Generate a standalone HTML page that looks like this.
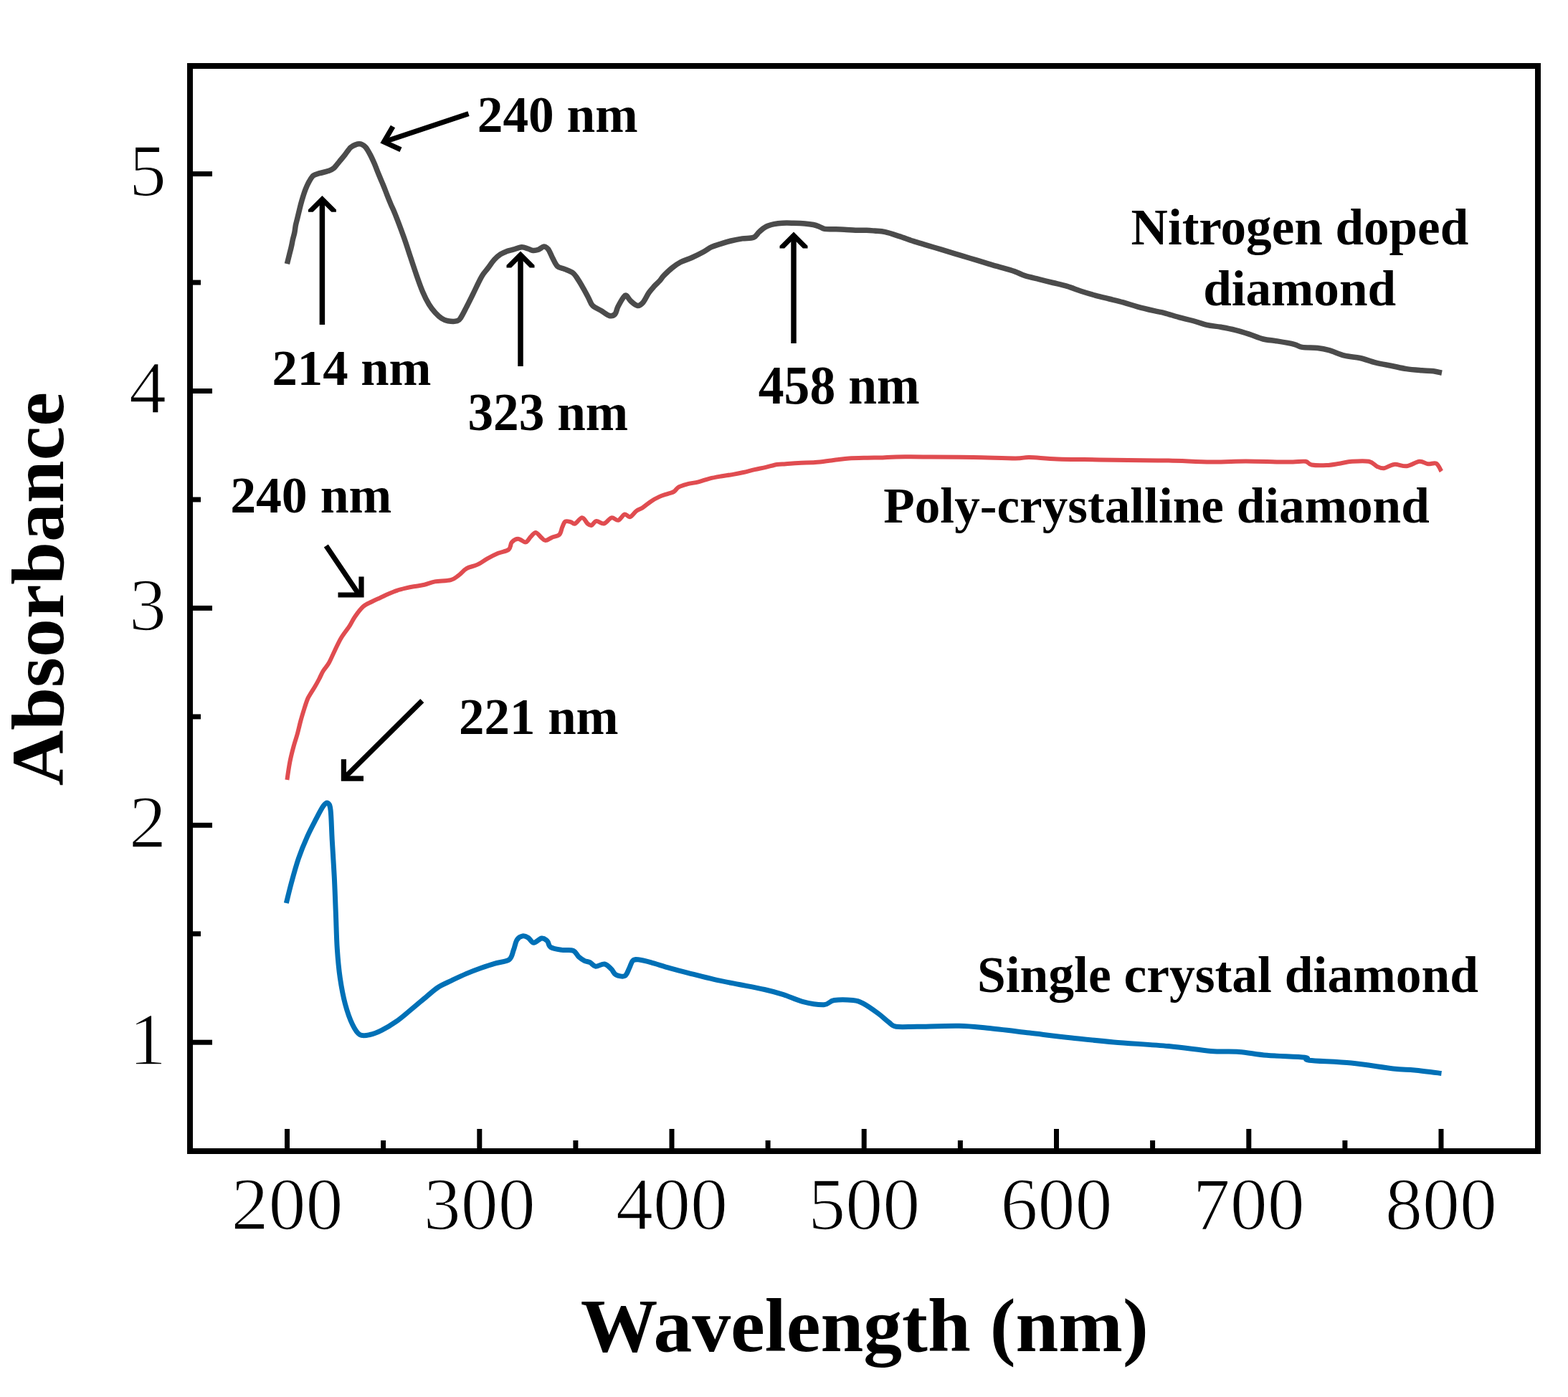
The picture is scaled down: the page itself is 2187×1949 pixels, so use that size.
<!DOCTYPE html>
<html><head><meta charset="utf-8"><title>UV-Vis absorbance</title>
<style>html,body{margin:0;padding:0;background:#fff;width:2187px;height:1949px;overflow:hidden}svg{display:block}text{font-family:"Liberation Serif","Times New Roman",serif;fill:#000}.t{font-size:104px;stroke:#fff;stroke-width:1.6px;paint-order:fill}.b{font-weight:bold}.ann{font-size:70px;font-weight:bold}.lab{font-size:110px;font-weight:bold}</style></head><body>
<svg xmlns="http://www.w3.org/2000/svg" width="2187" height="1949" viewBox="0 0 2187 1949">
<rect width="2187" height="1949" fill="#fff"/>
<path d="M400.4,368.2C401.0,365.9 402.8,358.3 403.8,354.3C404.8,350.3 405.6,347.7 406.3,344.4C407.1,341.1 407.6,337.8 408.3,334.5C409.1,331.2 410.1,327.9 410.8,324.6C411.5,321.3 411.7,318.0 412.3,314.7C412.9,311.4 413.8,308.5 414.7,304.8C415.6,301.1 416.7,296.6 417.7,292.5C418.7,288.4 419.5,284.8 420.9,280.1C422.3,275.4 424.2,269.0 426.0,264.4C427.8,259.8 429.6,256.0 431.5,252.7C433.4,249.4 434.9,246.6 437.3,244.8C439.7,243.0 442.5,242.7 445.9,241.7C449.3,240.7 454.4,239.8 457.7,238.6C461.0,237.4 462.9,236.9 465.5,234.7C468.1,232.5 470.8,228.4 473.4,225.3C476.0,222.2 478.6,219.2 481.2,215.9C483.8,212.6 486.4,208.1 489.0,205.7C491.6,203.3 494.9,202.3 496.9,201.5C498.9,200.7 499.5,200.8 500.8,200.8C502.1,200.8 503.1,200.7 504.7,201.5C506.3,202.3 508.2,203.3 510.2,205.7C512.1,208.1 514.4,212.2 516.4,215.9C518.4,219.6 519.9,223.0 521.9,227.6C523.9,232.2 526.1,238.2 528.2,243.3C530.3,248.4 532.5,253.4 534.5,258.2C536.5,263.0 538.2,267.7 540.0,272.3C541.8,276.9 543.6,281.3 545.4,285.6C547.2,289.9 547.9,290.6 550.9,298.1C553.9,305.6 559.7,321.0 563.2,330.8C566.7,340.6 569.1,348.3 572.0,357.1C574.9,365.9 577.9,375.1 580.8,383.5C583.7,391.9 586.7,400.4 589.6,407.3C592.5,414.2 595.5,420.0 598.4,424.8C601.3,429.6 604.2,433.1 607.1,436.3C610.0,439.5 613.0,442.3 615.9,444.2C618.8,446.1 621.0,447.1 624.7,447.7C628.4,448.3 634.8,448.6 637.9,447.7C641.0,446.8 641.0,445.8 643.2,442.4C645.4,439.0 648.3,432.9 651.1,427.5C653.9,422.1 656.5,416.8 659.9,409.9C663.3,402.9 668.3,391.8 671.8,385.8C675.2,379.8 677.7,378.0 680.6,374.1C683.5,370.2 686.5,365.5 689.4,362.3C692.3,359.1 695.3,356.6 698.2,354.7C701.1,352.8 704.1,351.7 707.0,350.6C709.9,349.5 712.4,349.2 715.8,348.2C719.2,347.2 724.2,344.9 727.6,344.7C731.0,344.5 733.8,346.2 736.4,347.0C739.0,347.8 740.9,349.2 743.4,349.4C745.9,349.6 748.5,349.1 751.1,348.2C753.7,347.3 756.5,344.2 758.7,344.1C761.0,344.0 762.6,345.1 764.6,347.6C766.6,350.2 768.4,355.4 770.5,359.4C772.6,363.4 774.7,368.8 777.5,371.5C780.3,374.2 783.8,373.8 787.4,375.4C791.0,377.0 795.9,378.3 799.2,380.9C802.5,383.5 804.4,387.2 807.0,391.1C809.6,395.0 812.4,400.2 814.8,404.4C817.1,408.6 819.1,412.5 821.1,416.2C823.1,419.9 823.7,423.5 826.6,426.4C829.5,429.3 834.5,431.0 838.4,433.4C842.3,435.8 846.9,439.7 850.1,440.5C853.4,441.3 855.9,440.2 857.9,438.1C859.9,436.0 859.9,431.8 861.9,427.9C863.9,424.0 867.8,417.2 869.7,414.6C871.7,412.0 871.9,411.4 873.6,412.3C875.3,413.2 877.3,417.8 879.9,420.1C882.5,422.5 886.4,426.1 889.3,426.4C892.2,426.7 894.5,424.7 897.1,421.7C899.7,418.7 902.4,412.2 905.0,408.4C907.6,404.6 910.3,401.8 912.8,399.0C915.3,396.2 917.9,394.3 920.0,391.9C922.1,389.5 922.8,387.6 925.7,384.6C928.6,381.6 933.5,376.8 937.4,373.7C941.3,370.6 944.6,368.2 949.2,365.8C953.8,363.4 959.6,361.9 964.8,359.5C970.0,357.1 975.9,354.2 980.5,351.7C985.1,349.2 988.4,346.5 992.3,344.7C996.2,342.9 999.4,342.1 1004.0,340.7C1008.6,339.2 1014.5,337.3 1019.7,336.0C1024.9,334.7 1030.2,333.7 1035.4,332.9C1040.6,332.1 1047.1,332.9 1051.0,331.3C1054.9,329.7 1056.1,325.9 1058.9,323.5C1061.7,321.1 1064.3,318.4 1067.8,316.6C1071.2,314.8 1075.7,313.6 1079.6,312.7C1083.5,311.8 1086.7,311.4 1091.3,311.2C1095.9,310.9 1101.8,311.1 1107.0,311.2C1112.2,311.3 1118.1,311.5 1122.7,311.9C1127.3,312.3 1131.1,312.8 1134.4,313.5C1137.7,314.2 1139.7,314.9 1142.3,315.9C1144.9,316.9 1146.8,318.8 1150.1,319.4C1153.4,320.0 1157.3,319.7 1161.9,319.8C1166.5,319.9 1172.3,319.9 1177.5,320.2C1182.7,320.4 1188.0,321.1 1193.2,321.3C1198.4,321.5 1204.4,321.2 1208.9,321.3C1213.4,321.4 1215.7,321.7 1220.0,322.1C1224.3,322.5 1228.9,322.4 1234.6,323.7C1240.3,324.9 1247.7,327.5 1254.2,329.6C1260.7,331.7 1267.3,334.3 1273.8,336.4C1280.3,338.5 1286.9,340.3 1293.4,342.3C1299.9,344.3 1306.5,346.2 1313.0,348.2C1319.5,350.2 1326.0,352.1 1332.5,354.1C1339.0,356.1 1345.6,358.1 1352.1,360.0C1358.6,361.9 1365.2,363.9 1371.7,365.8C1378.2,367.8 1384.1,369.6 1391.3,371.7C1398.5,373.8 1408.6,376.4 1415.0,378.6C1421.4,380.8 1423.9,382.9 1429.6,384.7C1435.3,386.5 1442.7,388.0 1449.2,389.6C1455.7,391.2 1462.3,392.9 1468.8,394.5C1475.3,396.1 1481.9,397.4 1488.4,399.4C1494.9,401.3 1501.4,404.1 1507.9,406.2C1514.4,408.3 1521.0,410.3 1527.5,412.1C1534.0,413.9 1540.6,415.4 1547.1,417.0C1553.6,418.6 1560.2,420.1 1566.7,421.9C1573.2,423.7 1579.1,425.8 1586.3,427.8C1593.5,429.8 1603.6,432.2 1610.0,433.7C1616.4,435.2 1618.9,435.3 1624.6,436.8C1630.3,438.3 1637.7,440.8 1644.2,442.6C1650.7,444.4 1657.3,445.7 1663.8,447.5C1670.3,449.3 1676.9,451.9 1683.4,453.4C1689.9,454.9 1696.4,455.1 1702.9,456.3C1709.4,457.5 1716.0,458.7 1722.5,460.3C1729.0,461.9 1735.6,464.0 1742.1,466.1C1748.6,468.2 1755.2,471.4 1761.7,473.0C1768.2,474.6 1774.1,474.7 1781.3,475.9C1788.5,477.1 1799.2,478.9 1805.0,480.3C1810.8,481.7 1810.8,483.5 1816.2,484.4C1821.7,485.3 1831.4,484.8 1837.7,485.5C1844.0,486.2 1847.6,486.9 1853.9,488.7C1860.2,490.5 1868.2,494.4 1875.4,496.2C1882.6,498.0 1889.8,497.9 1897.0,499.5C1904.2,501.1 1911.3,504.1 1918.5,505.9C1925.7,507.7 1932.9,508.8 1940.1,510.2C1947.3,511.6 1954.4,513.5 1961.6,514.6C1968.8,515.7 1976.9,516.2 1983.2,516.7C1989.5,517.2 1994.7,517.2 1999.3,517.8C2003.9,518.4 2009.0,519.9 2011.0,520.3" fill="none" stroke="#4b4b4b" stroke-width="7.5" stroke-linejoin="round"/>
<path d="M400.4,1088.0C401.0,1083.8 402.8,1070.9 404.3,1063.1C405.8,1055.3 407.8,1047.7 409.6,1041.1C411.4,1034.5 413.3,1029.4 414.9,1023.5C416.5,1017.6 417.7,1011.8 419.3,1005.9C420.9,1000.0 422.9,993.5 424.5,988.4C426.1,983.2 427.8,978.2 429.1,975.0C430.4,971.8 430.7,971.8 432.4,969.0C434.1,966.2 437.0,961.7 439.2,958.0C441.4,954.3 443.4,950.7 445.3,947.0C447.2,943.3 448.6,939.6 450.8,936.0C453.0,932.4 455.8,930.0 458.5,925.3C461.2,920.6 464.0,913.6 466.9,907.7C469.8,901.9 472.2,896.1 475.7,890.2C479.2,884.4 484.8,877.6 488.0,872.6C491.2,867.6 491.9,864.9 495.0,860.5C498.1,856.1 502.9,849.6 506.8,846.1C510.7,842.6 514.6,841.5 518.5,839.5C522.4,837.5 526.4,835.8 530.3,834.0C534.2,832.2 538.1,830.2 542.0,828.5C545.9,826.8 549.9,825.1 553.8,823.8C557.7,822.5 561.6,821.6 565.5,820.7C569.4,819.8 572.6,819.1 577.0,818.3C581.4,817.5 587.0,816.9 592.0,815.8C597.0,814.6 600.6,812.5 606.7,811.4C612.8,810.3 623.3,810.7 628.8,809.2C634.3,807.7 636.1,805.3 639.8,802.6C643.5,799.9 646.5,795.6 650.8,793.1C655.1,790.6 660.6,790.2 665.5,787.9C670.4,785.6 675.3,781.8 680.2,779.1C685.1,776.4 690.0,773.9 694.9,771.8C699.8,769.7 706.5,769.2 709.6,766.6C712.8,764.0 711.6,758.9 713.8,756.4C716.0,753.9 719.4,751.7 722.6,751.7C725.8,751.7 730.2,756.9 733.2,756.4C736.2,755.9 737.9,751.0 740.3,748.8C742.6,746.5 744.9,742.7 747.3,742.9C749.7,743.1 752.6,748.0 754.9,749.9C757.1,751.8 758.3,754.1 760.8,754.1C763.2,754.1 766.4,751.3 769.6,749.9C772.8,748.5 777.8,748.2 780.2,745.8C782.7,743.4 782.9,738.3 784.3,735.3C785.7,732.3 786.4,728.8 788.4,727.6C790.4,726.4 793.9,727.7 796.1,728.2C798.4,728.7 799.3,731.6 801.9,730.6C804.5,729.6 808.9,722.3 811.9,722.3C814.9,722.3 817.4,728.8 819.6,730.6C821.8,732.4 823.0,733.5 825.0,732.9C827.0,732.3 828.9,727.4 831.8,727.0C834.7,726.6 838.8,731.3 842.3,730.5C845.8,729.7 849.6,723.1 852.9,722.3C856.2,721.5 859.3,726.6 862.3,725.8C865.3,725.0 868.4,718.4 871.1,717.6C873.9,716.8 876.0,721.9 878.8,721.1C881.5,720.3 884.7,715.0 887.6,712.9C890.5,710.8 893.0,710.5 896.4,708.2C899.8,706.0 904.2,702.0 908.1,699.4C912.0,696.8 916.0,694.7 919.9,692.9C923.8,691.1 928.2,690.0 931.6,688.8C935.0,687.6 937.5,687.5 940.0,685.9C942.5,684.3 943.7,681.1 946.8,679.4C949.9,677.6 953.9,676.6 958.5,675.4C963.1,674.2 969.0,673.6 974.2,672.3C979.4,671.0 984.6,668.9 989.8,667.6C995.0,666.3 1000.3,665.4 1005.5,664.5C1010.7,663.6 1016.0,663.0 1021.2,662.1C1026.4,661.2 1031.7,660.2 1036.9,659.0C1042.1,657.8 1047.3,656.3 1052.5,655.1C1057.7,653.9 1063.0,653.1 1068.2,651.9C1073.4,650.7 1079.3,648.8 1083.9,648.0C1088.5,647.2 1091.1,647.6 1096.0,647.2C1100.9,646.9 1106.7,646.2 1113.5,645.9C1120.3,645.5 1129.8,645.6 1137.0,645.1C1144.2,644.6 1151.4,643.4 1156.6,642.7C1161.8,642.1 1163.8,641.7 1168.4,641.2C1173.0,640.7 1177.5,640.0 1184.0,639.6C1190.5,639.2 1199.7,639.0 1207.5,638.8C1215.3,638.6 1223.9,638.6 1231.0,638.4C1238.1,638.2 1238.7,637.5 1250.0,637.4C1261.3,637.2 1280.9,637.4 1298.8,637.5C1316.7,637.6 1337.9,637.8 1357.5,638.1C1377.1,638.4 1403.2,639.5 1416.3,639.5C1429.4,639.5 1426.1,637.9 1435.9,638.1C1445.7,638.3 1458.8,640.0 1475.1,640.5C1491.4,641.0 1517.5,641.1 1533.8,641.4C1550.1,641.6 1557.0,641.8 1573.0,642.0C1589.0,642.2 1610.7,642.1 1630.0,642.5C1649.3,642.9 1670.8,644.3 1688.8,644.5C1706.8,644.7 1722.5,643.5 1737.7,643.5C1752.9,643.5 1769.0,644.2 1780.0,644.4C1791.0,644.5 1796.7,644.5 1803.5,644.4C1810.3,644.3 1816.8,643.1 1821.1,643.8C1825.4,644.5 1824.5,647.6 1829.4,648.5C1834.3,649.4 1844.0,649.4 1850.5,649.1C1857.0,648.8 1862.3,647.6 1868.2,646.7C1874.1,645.8 1879.0,644.3 1885.8,643.8C1892.6,643.3 1903.4,642.6 1909.3,643.8C1915.2,645.0 1917.5,649.3 1921.0,650.9C1924.5,652.5 1926.5,653.7 1930.4,653.2C1934.3,652.7 1939.3,648.4 1944.6,647.9C1949.9,647.4 1956.3,651.0 1962.2,650.3C1968.1,649.6 1974.9,644.3 1979.8,643.8C1984.7,643.3 1987.7,646.8 1991.6,647.3C1995.5,647.8 2000.2,645.0 2003.3,646.7C2006.4,648.4 2009.2,655.7 2010.4,657.5" fill="none" stroke="#e04c50" stroke-width="6" stroke-linejoin="round"/>
<path d="M399.3,1260.0C400.5,1255.3 403.5,1242.5 406.3,1232.1C409.1,1221.7 412.7,1208.4 416.4,1197.6C420.1,1186.8 424.5,1176.2 428.6,1167.1C432.7,1157.9 437.1,1149.8 440.8,1142.7C444.5,1135.6 448.3,1128.1 451.0,1124.4C453.7,1120.7 455.4,1119.3 457.1,1120.3C458.8,1121.3 460.1,1122.0 461.1,1130.5C462.1,1139.0 462.4,1155.8 463.2,1171.1C464.0,1186.3 465.3,1205.0 466.2,1222.0C467.1,1239.0 467.6,1255.9 468.3,1272.8C469.0,1289.7 469.3,1308.4 470.3,1323.6C471.3,1338.8 472.4,1351.3 474.3,1364.2C476.2,1377.1 478.6,1390.0 481.5,1400.8C484.4,1411.6 488.2,1422.2 491.6,1429.3C495.0,1436.4 497.7,1441.1 501.8,1443.5C505.9,1445.9 510.9,1444.5 516.0,1443.5C521.1,1442.5 526.2,1440.5 532.3,1437.4C538.4,1434.4 545.8,1430.0 552.6,1425.2C559.4,1420.5 565.7,1414.8 572.9,1408.9C580.1,1403.0 589.3,1395.0 595.7,1389.7C602.1,1384.4 605.6,1380.9 611.3,1377.2C617.0,1373.5 623.6,1370.9 630.1,1367.8C636.6,1364.7 643.7,1361.3 650.5,1358.4C657.3,1355.5 664.4,1352.8 670.9,1350.5C677.4,1348.2 683.2,1346.2 689.7,1344.3C696.2,1342.3 705.7,1341.9 710.1,1338.8C714.5,1335.7 714.5,1330.0 716.3,1325.4C718.1,1320.8 718.9,1314.5 721.0,1311.3C723.1,1308.0 726.3,1306.4 728.9,1305.9C731.5,1305.4 734.1,1306.6 736.7,1308.2C739.3,1309.8 741.4,1315.2 744.5,1315.3C747.6,1315.4 752.4,1309.4 755.5,1309.0C758.6,1308.6 761.3,1310.8 763.4,1312.9C765.5,1315.0 764.7,1319.4 768.1,1321.5C771.5,1323.6 778.5,1324.6 783.7,1325.4C788.9,1326.2 795.5,1324.6 799.4,1326.2C803.3,1327.8 804.6,1332.6 807.2,1334.9C809.8,1337.2 812.5,1339.0 815.1,1340.3C817.7,1341.6 820.3,1341.4 822.9,1342.7C825.5,1344.0 827.3,1347.8 830.7,1348.2C834.1,1348.6 839.6,1344.3 843.3,1345.0C847.0,1345.7 850.1,1349.6 852.7,1352.1C855.3,1354.6 855.9,1358.3 859.0,1359.9C862.1,1361.5 868.4,1363.1 871.5,1361.5C874.6,1359.9 876.0,1354.0 877.8,1350.5C879.6,1347.0 880.4,1342.2 882.5,1340.3C884.6,1338.3 886.1,1338.4 890.3,1338.8C894.5,1339.2 900.3,1340.6 907.6,1342.6C914.9,1344.6 925.3,1348.1 934.1,1350.6C942.9,1353.1 950.2,1355.0 960.5,1357.6C970.8,1360.2 984.0,1363.8 995.8,1366.4C1007.5,1369.1 1019.2,1371.2 1031.0,1373.5C1042.8,1375.8 1056.0,1378.2 1066.3,1380.5C1076.6,1382.8 1083.9,1384.8 1092.7,1387.6C1101.5,1390.4 1109.8,1394.9 1119.2,1397.3C1128.6,1399.7 1141.9,1402.0 1149.2,1401.7C1156.5,1401.4 1156.5,1396.5 1163.3,1395.5C1170.0,1394.5 1183.0,1394.8 1189.7,1395.5C1196.5,1396.2 1197.9,1396.8 1203.8,1399.9C1209.7,1403.0 1219.0,1409.6 1225.0,1414.0C1231.0,1418.4 1235.9,1423.4 1240.0,1426.4C1244.1,1429.5 1243.3,1431.3 1249.8,1432.3C1256.3,1433.3 1264.5,1432.5 1279.2,1432.3C1293.9,1432.1 1321.6,1431.0 1337.9,1431.3C1354.2,1431.6 1360.8,1432.7 1377.1,1434.3C1393.4,1435.9 1416.3,1438.8 1435.9,1441.1C1455.5,1443.4 1475.1,1445.9 1494.7,1448.0C1514.3,1450.1 1530.9,1452.0 1553.4,1453.9C1576.0,1455.8 1607.4,1457.5 1630.0,1459.6C1652.6,1461.7 1672.5,1465.1 1688.8,1466.4C1705.1,1467.7 1714.9,1466.4 1727.9,1467.4C1741.0,1468.4 1751.8,1471.0 1767.1,1472.3C1782.4,1473.6 1810.2,1474.1 1820.0,1475.3C1829.8,1476.5 1815.1,1477.9 1825.9,1479.2C1836.7,1480.5 1865.1,1481.1 1884.7,1483.1C1904.3,1485.0 1928.7,1489.3 1943.4,1490.9C1958.1,1492.5 1961.6,1491.8 1972.8,1492.9C1984.0,1494.0 2004.2,1496.7 2010.5,1497.5" fill="none" stroke="#0070b6" stroke-width="7" stroke-linejoin="round"/>
<rect x="265" y="92" width="1880" height="1514" fill="none" stroke="#000" stroke-width="8"/>
<g stroke="#000" stroke-width="7"><line x1="400.5" y1="1602" x2="400.5" y2="1575" /><line x1="668.8" y1="1602" x2="668.8" y2="1575" /><line x1="937.0" y1="1602" x2="937.0" y2="1575" /><line x1="1205.2" y1="1602" x2="1205.2" y2="1575" /><line x1="1473.5" y1="1602" x2="1473.5" y2="1575" /><line x1="1741.8" y1="1602" x2="1741.8" y2="1575" /><line x1="2010.0" y1="1602" x2="2010.0" y2="1575" /><line x1="534.6" y1="1602" x2="534.6" y2="1591" /><line x1="802.9" y1="1602" x2="802.9" y2="1591" /><line x1="1071.1" y1="1602" x2="1071.1" y2="1591" /><line x1="1339.4" y1="1602" x2="1339.4" y2="1591" /><line x1="1607.6" y1="1602" x2="1607.6" y2="1591" /><line x1="1875.9" y1="1602" x2="1875.9" y2="1591" /><line x1="269" y1="1454.2" x2="296" y2="1454.2" /><line x1="269" y1="1151.3" x2="296" y2="1151.3" /><line x1="269" y1="848.4" x2="296" y2="848.4" /><line x1="269" y1="545.5" x2="296" y2="545.5" /><line x1="269" y1="242.6" x2="296" y2="242.6" /><line x1="269" y1="1302.8" x2="280" y2="1302.8" /><line x1="269" y1="999.9" x2="280" y2="999.9" /><line x1="269" y1="697.0" x2="280" y2="697.0" /><line x1="269" y1="394.1" x2="280" y2="394.1" /></g>
<text class="t" x="400.5" y="1715.3" text-anchor="middle">200</text>
<text class="t" x="668.8" y="1715.3" text-anchor="middle">300</text>
<text class="t" x="937.0" y="1715.3" text-anchor="middle">400</text>
<text class="t" x="1205.2" y="1715.3" text-anchor="middle">500</text>
<text class="t" x="1473.5" y="1715.3" text-anchor="middle">600</text>
<text class="t" x="1741.8" y="1715.3" text-anchor="middle">700</text>
<text class="t" x="2010.0" y="1715.3" text-anchor="middle">800</text>
<text class="t" x="232" y="1484.7" text-anchor="end">1</text>
<text class="t" x="232" y="1181.8" text-anchor="end">2</text>
<text class="t" x="232" y="878.9" text-anchor="end">3</text>
<text class="t" x="232" y="576.0" text-anchor="end">4</text>
<text class="t" x="232" y="273.1" text-anchor="end">5</text>
<text class="b" x="809.72" y="1884.99" font-size="105.78" textLength="792.08" lengthAdjust="spacingAndGlyphs">Wavelength (nm)</text>
<text class="b" transform="translate(87.95,1096.27) rotate(-90)" x="0" y="0" font-size="104.71" textLength="549.27" lengthAdjust="spacingAndGlyphs">Absorbance</text>
<text class="b" x="379.47" y="537.00" font-size="70.30" textLength="221.89" lengthAdjust="spacingAndGlyphs">214 nm</text>
<text class="b" x="665.75" y="184.16" font-size="72.24" textLength="223.92" lengthAdjust="spacingAndGlyphs">240 nm</text>
<text class="b" x="652.45" y="600.33" font-size="73.28" textLength="223.82" lengthAdjust="spacingAndGlyphs">323 nm</text>
<text class="b" x="1057.78" y="563.40" font-size="75.07" textLength="224.89" lengthAdjust="spacingAndGlyphs">458 nm</text>
<text class="b" x="321.13" y="714.56" font-size="72.24" textLength="225.15" lengthAdjust="spacingAndGlyphs">240 nm</text>
<text class="b" x="640.06" y="1023.98" font-size="72.09" textLength="222.60" lengthAdjust="spacingAndGlyphs">221 nm</text>
<text class="b" x="1577.58" y="340.54" font-size="72.67" textLength="470.61" lengthAdjust="spacingAndGlyphs">Nitrogen doped</text>
<text class="b" x="1678.15" y="425.91" font-size="69.43" textLength="268.91" lengthAdjust="spacingAndGlyphs">diamond</text>
<text class="b" x="1232.28" y="728.86" font-size="68.78" textLength="761.55" lengthAdjust="spacingAndGlyphs">Poly-crystalline diamond</text>
<text class="b" x="1362.93" y="1383.63" font-size="71.78" textLength="699.11" lengthAdjust="spacingAndGlyphs">Single crystal diamond</text>
<line x1="449.4" y1="453.0" x2="449.4" y2="277.0" stroke="#000" stroke-width="7.5"/><polygon points="449.4,273.0 468.9,292.5 468.9,295.8 462.3,295.8 449.4,282.9 436.5,295.8 429.9,295.8 429.9,292.5" fill="#000"/><line x1="726.0" y1="511.0" x2="726.0" y2="354.6" stroke="#000" stroke-width="7.5"/><polygon points="726.0,350.6 745.5,370.1 745.5,373.4 738.9,373.4 726.0,360.5 713.1,373.4 706.5,373.4 706.5,370.1" fill="#000"/><line x1="1107.0" y1="479.0" x2="1107.0" y2="327.6" stroke="#000" stroke-width="7.5"/><polygon points="1107.0,323.6 1126.5,343.1 1126.5,346.4 1119.9,346.4 1107.0,333.5 1094.1,346.4 1087.5,346.4 1087.5,343.1" fill="#000"/><g stroke="#000" stroke-width="7.2" stroke-linecap="butt" stroke-linejoin="miter" stroke-miterlimit="10"><line x1="653.5" y1="158.6" x2="538" y2="197.2"/><polyline points="548,176.5 535.5,198 559,208.8" fill="none"/><line x1="454.8" y1="761.5" x2="500" y2="828.5"/><polyline points="471.5,830 504,830 504,804.5" fill="none"/><line x1="588.8" y1="977.6" x2="482" y2="1083.5"/><polyline points="479.4,1059.2 479.4,1086.2 507,1086.2" fill="none"/></g>
</svg>
</body></html>
